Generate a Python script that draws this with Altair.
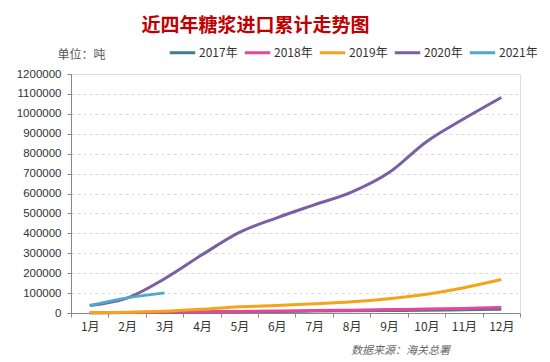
import altair as alt
import pandas as pd

months = ["1月", "2月", "3月", "4月", "5月", "6月", "7月", "8月", "9月", "10月", "11月", "12月"]
series = ["2017年", "2018年", "2019年", "2020年", "2021年"]
colors = ["#3D7F8F", "#E8449A", "#F5A31A", "#7A5FA5", "#4BACC6"]

y2017 = [800, 2000, 3500, 5000, 6500, 8000, 9500, 11000, 12500, 14000, 16000, 19000]
y2018 = [1000, 2500, 4000, 6000, 8000, 10000, 12000, 14000, 17000, 19500, 23000, 27000]
y2019 = [2000, 4000, 9000, 19000, 31000, 38000, 46000, 56000, 72000, 94000, 127000, 168000]
y2020 = [38000, 75000, 172000, 292000, 405000, 478000, 543000, 607000, 705000, 860000, 975000, 1082000]
y2021 = [37000, 76000, 101000]

rows = []
for name, vals in zip(series, [y2017, y2018, y2019, y2020, y2021]):
    for m, v in zip(months, vals):
        rows.append({"month": m, "series": name, "value": v})
df = pd.DataFrame(rows)

chart = alt.Chart(df).mark_line(strokeWidth=3, interpolate="cardinal").encode(
    x=alt.X(
        "month:N",
        sort=months,
        scale=alt.Scale(type="band", paddingInner=0, paddingOuter=0),
        axis=alt.Axis(
            title="数据来源：海关总署",
            titleX=329, titleY=37, titleAlign="center", titleBaseline="middle",
            titleFont="Noto Sans CJK SC", titleFontStyle="italic", titleFontWeight="normal",
            titleFontSize=11, titleColor="#666666",
            labelAngle=0, labelFont="Noto Sans CJK SC", labelFontSize=12, labelColor="#333333",
            labelPadding=4, tickBand="extent", tickSize=4, tickColor="#888888",
            domainColor="#888888", grid=False,
        ),
    ),
    y=alt.Y(
        "value:Q",
        scale=alt.Scale(domain=[0, 1200000], nice=False),
        axis=alt.Axis(
            values=list(range(0, 1200001, 100000)), format="d",
            title="单位：吨", titleAngle=0, titleX=-14, titleY=-20,
            titleAlign="left", titleBaseline="middle",
            titleFont="Noto Sans CJK SC", titleFontWeight="normal", titleFontSize=12,
            titleColor="#555555",
            labelFont="Liberation Sans", labelFontSize=11.5, labelColor="#333333",
            labelPadding=6, tickSize=4, tickColor="#888888", domainColor="#888888",
            gridColor="#DADADA", gridDash=[3, 3],
        ),
    ),
    color=alt.Color(
        "series:N",
        scale=alt.Scale(domain=series, range=colors),
        legend=alt.Legend(
            title=None, orient="none", direction="horizontal",
            legendX=97, legendY=-36,
            symbolType="stroke", symbolSize=650, symbolStrokeWidth=3,
            labelFont="Noto Sans CJK SC", labelFontSize=12, labelColor="#333333",
            labelOffset=2, columnPadding=0,
        ),
    ),
).properties(
    width=449,
    height=239,
    title=alt.TitleParams(
        "近四年糖浆进口累计走势图",
        font="Noto Sans CJK SC", fontSize=19, fontWeight="bold", color="#C00000",
        anchor="middle", dx=-40, offset=2,
    ),
    autosize=alt.AutoSizeParams(type="none"),
    padding={"left": 63, "top": 66, "right": 22, "bottom": 48},
).configure_view(stroke=None).configure(background="white")

chart.save("out.html", embed_options={"renderer": "svg", "actions": False})
